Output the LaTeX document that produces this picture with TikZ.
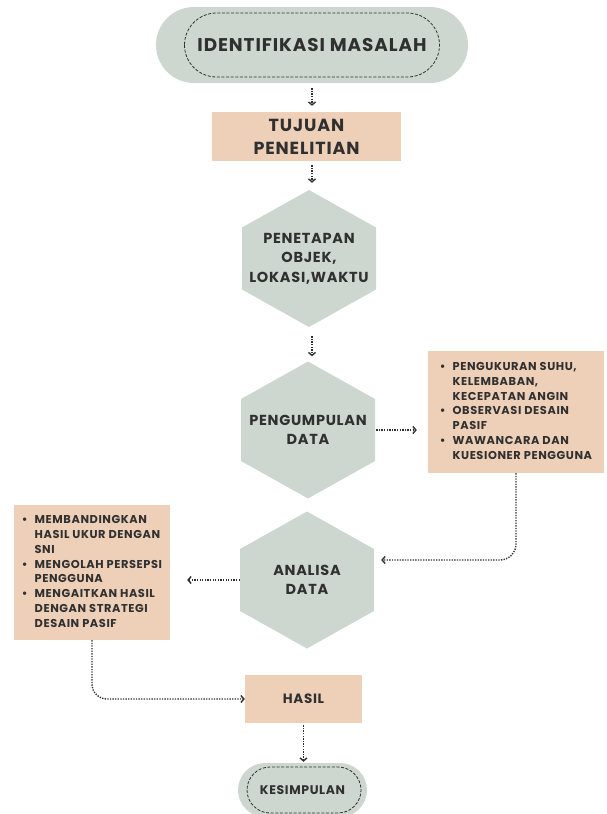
\documentclass[tikz,border=0pt]{standalone}
\usepackage{fontspec}
\setmainfont{Poppins}[LetterSpace=5]
\usetikzlibrary{arrows.meta,calc}
\definecolor{hexgreen}{RGB}{206,215,207}
\definecolor{peach}{RGB}{238,208,185}
\definecolor{ink}{RGB}{48,48,48}
\newcommand{\fsz}[2]{\bfseries\fontsize{#1}{#2}\selectfont}
\begin{document}
\begin{tikzpicture}[x=1pt,y=-1pt,
  every node/.style={text=ink,font=\bfseries,inner sep=0pt},
  pill/.style={fill=hexgreen,rounded corners=#1},
  peachbox/.style={fill=peach,align=center},
  hexnode/.style={minimum width=134pt,minimum height=137pt,align=center,
    font=\fsz{14.5}{19.5},
    path picture={\fill[hexgreen]
      (path picture bounding box.north)
      -- ($(path picture bounding box.east)+(0,31pt)$)
      -- ($(path picture bounding box.east)+(0,-31pt)$)
      -- (path picture bounding box.south)
      -- ($(path picture bounding box.west)+(0,-31pt)$)
      -- ($(path picture bounding box.west)+(0,31pt)$) -- cycle;}},
  inner dash/.style={draw=ink,line width=0.8pt,dash pattern=on 3pt off 1.6pt},
  flow/.style={draw=ink,line width=1.4pt,dash pattern=on 1.3pt off 1.3pt,
    -{Straight Barb[length=3pt,width=7pt]}},
  listtext/.style={font=\fsz{11.4}{14.8},align=left}]
\useasboundingbox (0,0) rectangle (606,814);

% title
\node[pill=38pt,minimum width=312pt,minimum height=76pt,font=\fsz{18.4}{22}] (title) at (312,45)
  {IDENTIFIKASI MASALAH};
\draw[inner dash,rounded corners=32pt] ($(title.center)+(-127.5pt,32pt)$) rectangle ++(255pt,-64pt);

% tujuan
\node[peachbox,minimum width=189pt,minimum height=49pt,font=\fsz{17.5}{23}] (tujuan) at (306.5,136.5)
  {TUJUAN\\PENELITIAN};

% hexagons
\node[hexnode] (h1) at (309,258.5) {PENETAPAN\\OBJEK,\\LOKASI,WAKTU};
\node[hexnode] (h2) at (308,430) {PENGUMPULAN\\DATA};
\node[hexnode] (h3) at (307,580) {ANALISA\\DATA};

% right list box
\node[fill=peach,minimum width=176pt,minimum height=122pt,listtext] (rbox) at (516,412)
  {\begin{tabular}{@{}l@{\hspace{7pt}}l@{}}
   \textbullet & PENGUKURAN SUHU,\\
   & KELEMBABAN,\\
   & KECEPATAN ANGIN\\
   \textbullet & OBSERVASI DESAIN\\
   & PASIF\\
   \textbullet & WAWANCARA DAN\\
   & KUESIONER PENGGUNA
   \end{tabular}};

% left list box
\node[fill=peach,minimum width=156pt,minimum height=135pt,listtext] (lbox) at (92,572.5)
  {\begin{tabular}{@{}l@{\hspace{7pt}}l@{}}
   \textbullet & MEMBANDINGKAN\\
   & HASIL UKUR DENGAN\\
   & SNI\\
   \textbullet & MENGOLAH PERSEPSI\\
   & PENGGUNA\\
   \textbullet & MENGAITKAN HASIL\\
   & DENGAN STRATEGI\\
   & DESAIN PASIF
   \end{tabular}};

% hasil
\node[peachbox,minimum width=117pt,minimum height=48pt,font=\fsz{13.5}{17}] (hasil) at (303.5,699)
  {HASIL};

% kesimpulan
\node[pill=27pt,minimum width=129pt,minimum height=54pt,font=\fsz{12.5}{14}] (kes) at (302.5,790)
  {KESIMPULAN};
\draw[inner dash,rounded corners=23pt] ($(kes.center)+(-55.5pt,23pt)$) rectangle ++(114pt,-46pt);

% connectors
\draw[flow,shorten <=5pt,shorten >=6pt] (title.south) -- (title.south |- tujuan.north);
\draw[flow,shorten <=4pt,shorten >=7pt] (title.south |- tujuan.south) -- (title.south |- h1.north);
\draw[flow,shorten <=9pt,shorten >=5pt] (title.south |- h1.south) -- (title.south |- h2.north);
\draw[flow,shorten <=1pt] (h2.east) -- ([xshift=-11pt]h2.east -| rbox.west);
\draw[flow,rounded corners=16pt] (rbox.south) |- ([xshift=7pt,yshift=20pt]h3.east);
\draw[flow] (h3.west) -- ([xshift=17pt]h3.west -| lbox.east);
\draw[flow,rounded corners=15pt] (lbox.south) |- (hasil.west);
\draw[flow,shorten <=2pt,shorten >=1pt] (hasil.south) -- (hasil.south |- kes.north);
\end{tikzpicture}
\end{document}
